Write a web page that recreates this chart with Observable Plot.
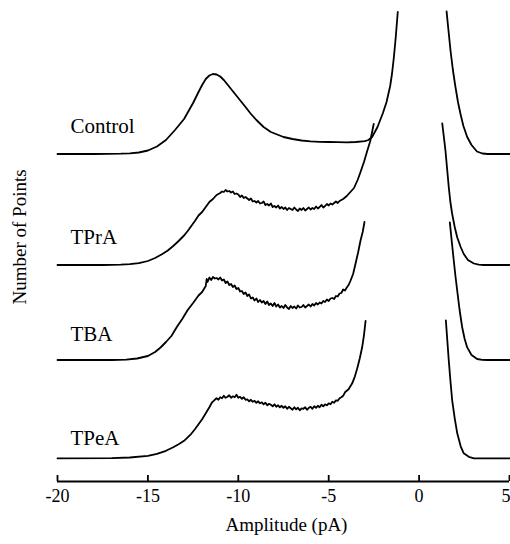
<!DOCTYPE html>
<html><head><meta charset="utf-8">
<script src="https://cdn.jsdelivr.net/npm/d3@7"></script>
<script src="https://cdn.jsdelivr.net/npm/@observablehq/plot@0.6"></script>
<style>body{margin:0;background:#fff}</style>
</head><body><div id="chart"></div>
<script>
// ---- data (amplitude pA, number of points in arbitrary units above each trace's baseline) ----
const traceNames = ["Control", "TPrA", "TBA", "TPeA"];
const xTicks = [-20, -15, -10, -5, 0, 5];

const controlLeft = [[-20,0],[-18,0],[-16.5,0.3],[-16,0.7],[-15.5,1.5],[-15,3.5],[-14.5,7.5],[-14,14],[-13.5,24],[-13,35],[-12.5,51],[-12.2,62],[-12,69],[-11.8,75],[-11.6,78.5],[-11.4,80],[-11.2,79.5],[-11,77.5],[-10.8,74],[-10.4,65],[-10,56],[-9.6,47],[-9.3,40],[-9,34],[-8.6,27],[-8.2,22],[-7.5,17],[-7,15],[-6.5,13.5],[-6,12.6],[-5.5,12.2],[-5,12],[-4.5,11.8],[-4,11.6],[-3.5,12],[-3,12.8],[-2.8,14],[-2.6,17],[-2.3,27],[-2,41],[-1.8,52],[-1.6,68],[-1.5,80],[-1.4,96],[-1.3,115],[-1.18,142]];
const controlRight = [[1.52,142.6],[1.6,128],[1.74,103],[1.87,84],[2.01,67],[2.15,52],[2.29,40],[2.45,28],[2.66,17],[2.9,9],[3.2,2.5],[3.5,0.5],[3.8,0],[5,0]];

const tprLeft = [[-20,0],[-17.5,0],[-16.5,0.3],[-16,0.8],[-15.5,1.8],[-15,4],[-14.6,7],[-14.2,11],[-13.9,14.5],[-13.6,19],[-13.3,24],[-13,29.5],[-12.8,34],[-12.6,39],[-12.4,44],[-12.2,49.5],[-12,53],[-11.8,58],[-11.6,63],[-11.4,66],[-11.2,70],
  [-11,72],[-10.9,73.5],[-10.8,73],[-10.7,75],[-10.6,73.5],[-10.5,74],[-10.4,72.5],[-10.3,73.5],[-10.2,71],[-10.1,71.5],[-10,70.5],[-9.9,68],[-9.8,69.5],[-9.7,67],[-9.6,68],[-9.5,66.5],[-9.4,65],[-9.3,66.5],[-9.2,63.5],[-9.1,64],[-9,62.5],[-8.9,64],[-8.8,61.5],[-8.7,62],[-8.6,63.5],[-8.5,60],[-8.4,61],[-8.3,59.5],[-8.2,61.5],[-8.1,58],[-8,59],[-7.9,57.5],[-7.8,59.5],[-7.7,56.5],[-7.6,58],[-7.5,56],[-7.4,57.5],[-7.3,55],[-7.2,57],[-7.1,56],[-7,55],[-6.9,57.5],[-6.8,55.5],[-6.7,54],[-6.6,56.5],[-6.5,55],[-6.4,57],[-6.3,54.5],[-6.2,56],[-6.1,57.5],[-6,55.5],[-5.9,57],[-5.8,56],[-5.7,58.5],[-5.6,56.5],[-5.5,58],[-5.4,60],[-5.3,57.5],[-5.2,59],[-5.1,61],[-5,59.5],[-4.9,61.5],[-4.8,60.5],[-4.7,62],[-4.6,63.5],[-4.5,62],[-4.4,64],
  [-4.2,66],[-4,69],[-3.8,73],[-3.6,77],[-3.4,85],[-3.24,93],[-3.05,103],[-2.87,114],[-2.7,124],[-2.51,141]];
const tprRight = [[1.28,141.6],[1.37,128],[1.46,114],[1.55,96],[1.64,78],[1.73,63],[1.83,51],[1.97,38],[2.11,27.5],[2.3,18],[2.47,11],[2.7,5],[3.03,1.5],[3.3,0.3],[3.58,0],[5,0]];

const tbaLeft = [[-20,0],[-17,0],[-16.2,0.3],[-15.6,1.5],[-15,4],[-14.6,8],[-14.3,12.5],[-14,18],[-13.7,24],[-13.4,33],[-13.1,41],[-12.8,50],[-12.5,57],[-12.2,64.5],[-12,68],
  [-11.8,74],[-11.75,81],[-11.7,78],[-11.6,82.5],[-11.5,80],[-11.4,83],[-11.3,81.5],[-11.2,82],[-11.1,80.5],[-11,82.5],[-10.9,79.5],[-10.8,80.5],[-10.7,77],[-10.6,78.5],[-10.5,75],[-10.4,76],[-10.3,73],[-10.2,74.5],[-10.1,71],[-10,72],[-9.9,68.5],[-9.8,69],[-9.7,66],[-9.6,67.5],[-9.5,64],[-9.4,65.5],[-9.3,61.5],[-9.2,62.5],[-9.1,59.5],[-9,61.5],[-8.9,58],[-8.8,60],[-8.7,57.5],[-8.6,59],[-8.5,56],[-8.4,58.5],[-8.3,55],[-8.2,56.5],[-8.1,54],[-8,57],[-7.9,53.5],[-7.8,55.5],[-7.7,52.5],[-7.6,54],[-7.5,52],[-7.4,55],[-7.3,52.5],[-7.2,51],[-7.1,54],[-7,52],[-6.9,53.5],[-6.8,51.5],[-6.7,54.5],[-6.6,52.5],[-6.5,53],[-6.4,55],[-6.3,52.5],[-6.2,54],[-6.1,55.5],[-6,53.5],[-5.9,56],[-5.8,54.5],[-5.7,57],[-5.6,55.5],[-5.5,57.5],[-5.4,56.5],[-5.3,59],[-5.2,58],[-5.1,60.5],[-5,59],[-4.9,61.5],[-4.8,62],[-4.7,61],[-4.6,64],[-4.5,63.5],[-4.4,66.5],[-4.3,67],[-4.2,70.5],[-4.1,69.5],[-4,72.5],
  [-3.9,75],[-3.8,79],[-3.65,86],[-3.52,96],[-3.38,107],[-3.24,119.5],[-3.12,128],[-3.02,138]];
const tbaRight = [[1.7,137.6],[1.81,118],[1.92,99],[2.01,84],[2.11,69],[2.24,50],[2.38,33],[2.52,21],[2.66,12.6],[2.9,5],[3.21,1],[3.5,0.2],[3.77,0],[5,0]];

const tpeLeft = [[-20,0],[-17,0.2],[-16,0.8],[-15,2.5],[-14.5,4.5],[-14,7.5],[-13.6,11],[-13.3,14],[-13,17.5],[-12.8,21],[-12.6,24.5],[-12.4,29],[-12.2,34],[-12,39],[-11.8,45],[-11.6,51],[-11.45,56],
  [-11.3,58.5],[-11.2,60],[-11.1,58.5],[-11,61],[-10.9,60],[-10.8,62.5],[-10.7,60.5],[-10.6,61.5],[-10.5,63],[-10.4,60.5],[-10.3,62],[-10.2,61],[-10.1,63.5],[-10,60.5],[-9.9,61.5],[-9.8,59.5],[-9.7,61],[-9.6,58.5],[-9.5,59],[-9.4,57],[-9.3,58.5],[-9.2,56.5],[-9.1,57.5],[-9,55.5],[-8.9,57],[-8.8,55],[-8.7,56],[-8.6,54],[-8.5,55.5],[-8.4,53],[-8.3,54.5],[-8.2,53.5],[-8.1,52],[-8,54],[-7.9,51.5],[-7.8,53],[-7.7,51],[-7.6,52.5],[-7.5,50.5],[-7.4,52],[-7.3,49.5],[-7.2,51.5],[-7.1,50],[-7,48.5],[-6.9,51],[-6.8,49],[-6.7,50.5],[-6.6,48],[-6.5,50],[-6.4,49.5],[-6.3,51],[-6.2,48.5],[-6.1,50.5],[-6,51.5],[-5.9,49.5],[-5.8,52],[-5.7,50.5],[-5.6,52.5],[-5.5,51],[-5.4,53.5],[-5.3,52],[-5.2,54],[-5.1,53],[-5,55],[-4.9,54],[-4.8,56.5],[-4.7,55.5],[-4.6,58],[-4.5,57.5],[-4.4,60],[-4.3,61],[-4.2,62.5],
  [-4.1,66],[-3.9,69],[-3.7,75],[-3.55,82],[-3.42,90],[-3.28,100],[-3.15,111],[-3.05,123],[-2.96,137.5]];
const tpeRight = [[1.48,138],[1.56,118],[1.64,98],[1.73,78],[1.83,58],[1.97,40],[2.11,25],[2.3,12],[2.47,5],[2.75,1.5],[3.03,0],[5,0]];

// ---- layout (vertical stacking of the traces) ----
const baselineLift = {Control: 327.5, TPrA: 216.5, TBA: 121.5, TPeA: 23.2};
const labelLift = {Control: 28, TPrA: 28, TBA: 26, TPeA: 20};

const branches = {
  Control: [controlLeft, controlRight],
  TPrA: [tprLeft, tprRight],
  TBA: [tbaLeft, tbaRight],
  TPeA: [tpeLeft, tpeRight]
};
const rows = [];
for (const name of traceNames) {
  branches[name].forEach((pts, b) => {
    for (const [x, c] of pts) rows.push({key: name + b, x, y: c + baselineLift[name]});
  });
}

const lastTick = xTicks[xTicks.length - 1];
const chart = Plot.plot({
  width: 510,
  height: 544,
  marginLeft: 57,
  marginRight: 1,
  marginTop: 10,
  marginBottom: 63,
  x: {domain: [-20, 5], axis: null},
  y: {domain: [0, 471], axis: null},
  style: {fontFamily: "'Liberation Serif', 'Times New Roman', serif", fontSize: "18px", color: "#000", background: "#fff"},
  marks: [
    Plot.line(rows, {x: "x", y: "y", z: "key", stroke: "#000", strokeWidth: 1.8, curve: "linear", strokeLinejoin: "round"}),
    Plot.ruleY([0], {stroke: "#000", strokeWidth: 1.8}),
    Plot.ruleX(xTicks, {x: d => d, y1: 0, y2: 6, stroke: "#000", strokeWidth: 1.8}),
    Plot.text(xTicks.filter(d => d !== lastTick), {x: d => d, frameAnchor: "bottom", text: d => String(d), lineAnchor: "top", dy: 8, fontSize: 18, fill: "#000"}),
    Plot.text([lastTick], {x: d => d, frameAnchor: "bottom", text: d => String(d), lineAnchor: "top", textAnchor: "end", dx: 1, dy: 8, fontSize: 18, fill: "#000"}),
    Plot.text(traceNames, {x: () => -20, y: d => baselineLift[d] + labelLift[d], text: d => d, textAnchor: "start", dx: 13, fontSize: 21, fill: "#000"}),
    Plot.text(["Amplitude (pA)"], {frameAnchor: "bottom", text: d => d, dx: 3, dy: 49, fontSize: 19, fill: "#000"}),
    Plot.text(["Number of Points"], {frameAnchor: "left", y: () => 177, text: d => d, rotate: -90, dx: -38, fontSize: 19, fill: "#000"})
  ]
});
document.getElementById("chart").appendChild(chart);
</script>
</body></html>
